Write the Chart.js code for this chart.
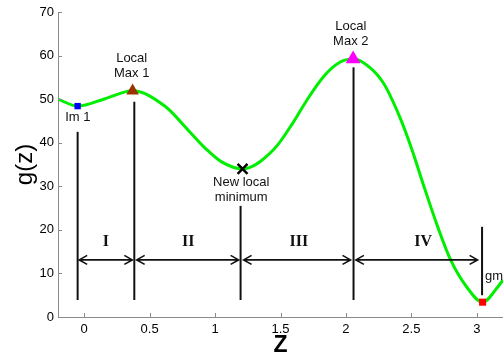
<!DOCTYPE html>
<html>
<head>
<meta charset="utf-8">
<script src="https://cdn.jsdelivr.net/npm/chart.js@4/dist/chart.umd.min.js"></script>
<style>
  html, body { margin: 0; padding: 0; background: #fff; }
  #wrap { width: 503px; height: 356px; }
</style>
</head>
<body>
<div id="wrap"><canvas id="c" width="503" height="356"></canvas></div>
<script>
// g(z) sampled along z
const curveZ = [-0.2, -0.05, 0.16, 0.37, 0.62, 0.80, 0.93, 1.05, 1.21, 1.45, 1.60, 1.70, 1.83, 1.95, 2.055, 2.11, 2.28, 2.41, 2.50, 2.60, 2.70, 2.80, 2.92, 3.044, 3.17, 3.2];
const curveG = [50.0, 48.4, 50.1, 51.9, 48.3, 42.7, 38.6, 35.6, 34.0, 38.5, 44.8, 49.7, 55.2, 58.4, 59.2, 58.8, 54.0, 46.0, 38.8, 29.6, 20.8, 13.1, 7.0, 3.4, 7.3, 8.5];

// stationary points (indices into the curve)
const lm1Idx = 1, max1Idx = 3, newMinIdx = 8, max2Idx = 14, gmIdx = 23;

// vertical separators
const sepZ = [-0.05, 0.383, 1.195, 2.058, 3.04];
const sepLow = [3.9, 3.9, 3.9, 3.9, 5.0];
const sepHigh = [42.5, 49.4, 25.5, 57.3, 20.7];

// region arrows and names
const arrowFrom = [-0.038, 0.401, 1.218, 2.076];
const arrowTo = [0.368, 1.18, 2.035, 3.006];
const arrowG = 13.1;
const regionNames = ['I', 'II', 'III', 'IV'];
const regionZ = [0.165, 0.795, 1.64, 2.59];
const regionG = 17.2;

// point annotations: text lines, anchor z, anchor g (first line)
const noteText = [['Im 1'], ['Local', 'Max 1'], ['New local', 'minimum'], ['Local', 'Max 2'], ['gm']];
const noteZ = [-0.048, 0.363, 1.2, 2.037, 3.062];
const noteG = [45.7, 59.4, 31.0, 66.6, 9.4];
const noteAlign = ['center', 'center', 'center', 'center', 'left'];

const xTicks = [0, 0.5, 1, 1.5, 2, 2.5, 3];
const yTicks = [0, 10, 20, 30, 40, 50, 60, 70];

const SANS = "'Liberation Sans', Arial, Helvetica, sans-serif";
const SERIF = "'Liberation Serif', 'Times New Roman', serif";

const pt = i => [{ x: curveZ[i], y: curveG[i] }];

const datasets = [
  {
    label: 'g', data: curveZ.map((z, i) => ({ x: z, y: curveG[i] })),
    borderColor: '#00ee00', borderWidth: 3, pointRadius: 0,
    cubicInterpolationMode: 'monotone', showLine: true, order: 2
  },
  { label: 'lm1', data: pt(lm1Idx), pointStyle: 'rect', pointRadius: 4.5, backgroundColor: '#0000ff', borderColor: '#0000ff', borderWidth: 0, order: 0 },
  { label: 'max1', data: pt(max1Idx), pointStyle: 'triangle', pointRadius: 7.3, backgroundColor: '#993300', borderColor: '#993300', borderWidth: 0, order: 0 },
  { label: 'newmin', data: pt(newMinIdx), pointStyle: 'crossRot', pointRadius: 7, borderColor: '#000', borderWidth: 2.5, order: 0 },
  { label: 'max2', data: pt(max2Idx), pointStyle: 'triangle', pointRadius: 8.6, backgroundColor: '#ff00ff', borderColor: '#ff00ff', borderWidth: 0, order: 0 },
  { label: 'gm', data: pt(gmIdx), pointStyle: 'rect', pointRadius: 5, backgroundColor: '#ff0000', borderColor: '#ff0000', borderWidth: 0, order: 0 }
];

sepZ.forEach((z, i) => {
  datasets.push({
    label: 'sep' + i,
    data: [{ x: z, y: sepLow[i] }, { x: z, y: sepHigh[i] }],
    showLine: true, borderColor: '#111', borderWidth: 2, pointRadius: 0, order: 3
  });
});

// inward tick marks plus arrows and text annotations
const overlay = {
  id: 'overlay',
  afterDatasetsDraw(chart) {
    const ctx = chart.ctx;
    const xs = chart.scales.x, ys = chart.scales.y;
    const area = chart.chartArea;
    ctx.save();

    // tick marks pointing into the plot
    ctx.strokeStyle = '#8a8a8a';
    ctx.lineWidth = 1;
    ctx.beginPath();
    xTicks.forEach(v => {
      const px = Math.round(xs.getPixelForValue(v)) + 0.5;
      ctx.moveTo(px, area.bottom);
      ctx.lineTo(px, area.bottom - 4);
    });
    yTicks.forEach(v => {
      const py = Math.round(ys.getPixelForValue(v)) + 0.5;
      ctx.moveTo(area.left, py);
      ctx.lineTo(area.left + 4, py);
    });
    ctx.stroke();

    // double arrows between separators
    ctx.strokeStyle = '#111';
    ctx.lineWidth = 1.6;
    const ay = ys.getPixelForValue(arrowG);
    arrowFrom.forEach((z0, i) => {
      const a = xs.getPixelForValue(z0), b = xs.getPixelForValue(arrowTo[i]);
      ctx.beginPath();
      ctx.moveTo(a, ay); ctx.lineTo(b, ay);
      ctx.moveTo(a + 8, ay - 4.5); ctx.lineTo(a, ay); ctx.lineTo(a + 8, ay + 4.5);
      ctx.moveTo(b - 8, ay - 4.5); ctx.lineTo(b, ay); ctx.lineTo(b - 8, ay + 4.5);
      ctx.stroke();
    });

    // region numerals
    ctx.fillStyle = '#111';
    ctx.font = 'bold 16px ' + SERIF;
    ctx.textAlign = 'center';
    ctx.textBaseline = 'middle';
    regionNames.forEach((t, i) => {
      ctx.fillText(t, xs.getPixelForValue(regionZ[i]), ys.getPixelForValue(regionG));
    });

    // point annotations
    ctx.font = '13px ' + SANS;
    noteText.forEach((lines, i) => {
      ctx.textAlign = noteAlign[i];
      const x = xs.getPixelForValue(noteZ[i]);
      const y = ys.getPixelForValue(noteG[i]);
      lines.forEach((s, k) => ctx.fillText(s, x, y + k * 15));
    });
    ctx.restore();
  }
};

new Chart(document.getElementById('c'), {
  type: 'scatter',
  data: { datasets },
  plugins: [overlay],
  options: {
    responsive: false,
    animation: false,
    devicePixelRatio: 1,
    layout: { autoPadding: false, padding: { top: 12, right: 0, left: 0, bottom: 0 } },
    plugins: { legend: { display: false }, tooltip: { enabled: false } },
    scales: {
      x: {
        type: 'linear', min: -0.2, max: 3.2,
        afterBuildTicks: s => { s.ticks = xTicks.map(v => ({ value: v })); },
        afterFit: s => { s.height = 39; s.paddingLeft = 0; s.paddingRight = 0; },
        grid: { display: true, drawOnChartArea: false, drawTicks: false },
        border: { display: true, color: '#8a8a8a', width: 1 },
        ticks: { color: '#000', padding: 5, font: { family: SANS, size: 13 }, maxRotation: 0, callback: v => String(v) },
        title: { display: true, text: 'Z', color: '#000', font: { family: SANS, size: 23, weight: 'bold', lineHeight: 1 }, padding: { top: 0, bottom: -1 } }
      },
      y: {
        type: 'linear', min: 0, max: 70,
        afterBuildTicks: s => { s.ticks = yTicks.map(v => ({ value: v })); },
        afterFit: s => { s.width = 58; },
        grid: { display: true, drawOnChartArea: false, drawTicks: false },
        border: { display: true, color: '#8a8a8a', width: 1 },
        ticks: { color: '#000', padding: 4, font: { family: SANS, size: 13 }, callback: v => String(v) },
        title: { display: true, text: 'g(z)', color: '#000', font: { family: SANS, size: 24, lineHeight: 1.2 }, padding: { top: 11, bottom: 0 } }
      }
    }
  }
});
</script>
</body>
</html>
